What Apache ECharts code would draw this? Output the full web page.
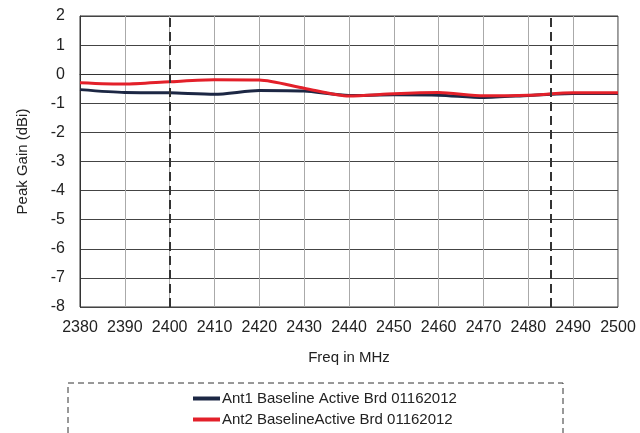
<!DOCTYPE html>
<html><head><meta charset="utf-8">
<script src="https://cdn.jsdelivr.net/npm/echarts@6/dist/echarts.min.js"></script>
<style>html,body{margin:0;padding:0;background:#fff}#c{width:640px;height:433px}</style>
</head><body><div id="c"></div>
<script>
const freqs = [2380,2390,2400,2410,2420,2430,2440,2450,2460,2470,2480,2490,2500];
const ant1 = [-0.53,-0.63,-0.64,-0.69,-0.56,-0.58,-0.73,-0.71,-0.72,-0.80,-0.73,-0.66,-0.66];
const ant2 = [-0.29,-0.34,-0.26,-0.19,-0.20,-0.48,-0.75,-0.67,-0.63,-0.74,-0.72,-0.64,-0.64];
const bandEdges = [2400, 2485];
const names = ['Ant1 Baseline Active Brd 01162012','Ant2 BaselineActive Brd 01162012'];
const font = '"Liberation Sans", Arial, sans-serif';
const chart = echarts.init(document.getElementById('c'));
chart.setOption({
  animation:false,
  textStyle:{fontFamily:font},
  grid:{left:80,right:22,top:16,bottom:126,show:true,borderColor:'#333',borderWidth:1},
  xAxis:{type:'value',min:2380,max:2500,interval:10,
    name:'Freq in MHz',nameLocation:'middle',nameGap:43,
    nameTextStyle:{fontSize:15,color:'#222',fontFamily:font},
    axisLine:{lineStyle:{color:'#333'}},axisTick:{show:false},
    axisLabel:{fontSize:16,color:'#222',margin:13,fontFamily:font,formatter:v=>String(v)},
    splitLine:{show:true,lineStyle:{color:'#aaa',width:1}}},
  yAxis:{type:'value',min:-8,max:2,interval:1,
    name:'Peak Gain (dBi)',nameLocation:'middle',nameGap:50,
    nameTextStyle:{fontSize:15,color:'#222',fontFamily:font},
    axisLine:{show:true,lineStyle:{color:'#333'}},axisTick:{show:false},
    axisLabel:{fontSize:16,color:'#222',margin:15,fontFamily:font},
    splitLine:{show:true,lineStyle:{color:'#444',width:1}}},
  legend:{orient:'vertical',left:193,top:391,padding:0,itemWidth:27,itemHeight:4,itemGap:6,icon:'rect',
    textStyle:{fontSize:15,color:'#222',fontFamily:font,padding:[0,0,0,-3]},
    data:names},
  graphic:[{type:'rect',shape:{x:68,y:383,width:495,height:70},
    style:{fill:'none',stroke:'#333',lineWidth:1,lineDash:[6,4]},silent:true}],
  series:[
    {name:names[0],type:'line',data:freqs.map((f,i)=>[f,ant1[i]]),smooth:0.25,showSymbol:false,
      lineStyle:{color:'#1c2744',width:3},itemStyle:{color:'#1c2744'},z:3,
      markLine:{silent:true,symbol:'none',label:{show:false},
        lineStyle:{color:'#333',type:[9,5],width:2},
        data:bandEdges.map(v=>({xAxis:v}))}},
    {name:names[1],type:'line',data:freqs.map((f,i)=>[f,ant2[i]]),smooth:0.25,showSymbol:false,
      lineStyle:{color:'#e3202a',width:3},itemStyle:{color:'#e3202a'},z:4}
  ]
});
</script></body></html>
